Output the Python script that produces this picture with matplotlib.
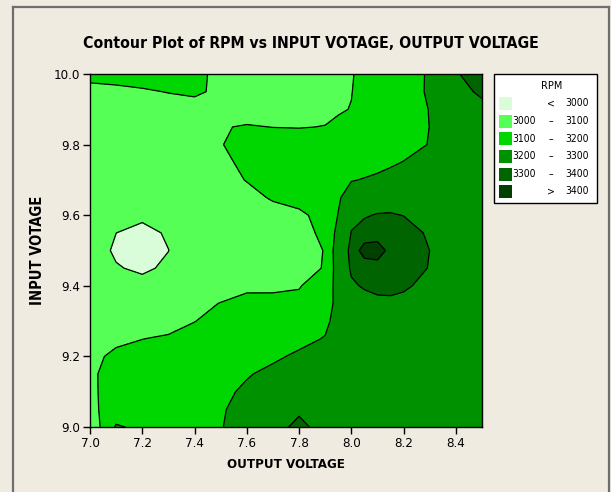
import matplotlib
matplotlib.use("Agg")
import numpy as np
import matplotlib.pyplot as plt
from matplotlib.patches import Rectangle
from matplotlib.lines import Line2D

# ---------------- data ----------------
output_voltage = [7.0, 7.1, 7.2, 7.3, 7.4, 7.5, 7.6, 7.7, 7.8, 7.9, 7.95,
                  8.0, 8.05, 8.1, 8.15, 8.2, 8.3, 8.4, 8.5]
input_voltage = [9.00, 9.05, 9.10, 9.15, 9.20, 9.25, 9.30, 9.35, 9.40, 9.45,
                 9.50, 9.55, 9.60, 9.65, 9.70, 9.75, 9.80, 9.85, 9.90, 9.95, 10.00]
# rpm[i][j] : input_voltage[i], output_voltage[j]
rpm = [
    [3030, 3211, 3179, 3185, 3192, 3198, 3218, 3270, 3320, 3270, 3268, 3265, 3263, 3262, 3260, 3260, 3258, 3256, 3254],
    [3080, 3140, 3160, 3170, 3180, 3195, 3218, 3250, 3287, 3270, 3265, 3262, 3260, 3258, 3256, 3255, 3255, 3254, 3252],
    [3080, 3145, 3155, 3165, 3175, 3180, 3215, 3240, 3260, 3262, 3260, 3258, 3256, 3255, 3255, 3255, 3255, 3254, 3252],
    [3085, 3135, 3142, 3150, 3160, 3175, 3193, 3222, 3245, 3252, 3252, 3252, 3252, 3252, 3252, 3252, 3252, 3252, 3250],
    [3078, 3118, 3124, 3130, 3138, 3150, 3165, 3185, 3215, 3235, 3240, 3245, 3248, 3250, 3252, 3253, 3255, 3255, 3252],
    [3070, 3082, 3099, 3108, 3116, 3128, 3145, 3160, 3175, 3205, 3225, 3240, 3248, 3255, 3258, 3260, 3260, 3258, 3255],
    [3055, 3052, 3060, 3075, 3099, 3115, 3130, 3140, 3150, 3180, 3235, 3255, 3265, 3270, 3272, 3272, 3268, 3262, 3258],
    [3045, 3040, 3042, 3055, 3082, 3102, 3122, 3115, 3108, 3140, 3240, 3265, 3282, 3288, 3289, 3285, 3275, 3265, 3260],
    [3036, 3019, 3013, 3022, 3045, 3070, 3085, 3090, 3098, 3118, 3255, 3293, 3305, 3313, 3314, 3308, 3284, 3265, 3260],
    [3026, 3003, 2993, 3007, 3030, 3045, 3058, 3068, 3078, 3104, 3255, 3307, 3323, 3336, 3339, 3329, 3297, 3268, 3262],
    [3021, 2994, 2973, 2999.5, 3026, 3045, 3060, 3070, 3080, 3102, 3265, 3311, 3460, 3474, 3353, 3336, 3299.8, 3270, 3262],
    [3024, 3000.2, 2988, 3004.7, 3030, 3050, 3065, 3072, 3060, 3125, 3230, 3302, 3317, 3327, 3329, 3321, 3293, 3268, 3260],
    [3028, 3015, 3008.6, 3018.6, 3035, 3055, 3070, 3082, 3078, 3140, 3203, 3286, 3296, 3303, 3304, 3299, 3278, 3265, 3258],
    [3035, 3025, 3018, 3025, 3045, 3068, 3085, 3105, 3140, 3172, 3190, 3240, 3258, 3272, 3276, 3274, 3265, 3260, 3255],
    [3040, 3035, 3032, 3040, 3058, 3082, 3102, 3130, 3150, 3170, 3183, 3196, 3204, 3212, 3224, 3235, 3250, 3255, 3255],
    [3045, 3042, 3042, 3050, 3068, 3092, 3108, 3125, 3135, 3145, 3152, 3160, 3170, 3180, 3190, 3202, 3225, 3240, 3250],
    [3050, 3050, 3052, 3060, 3078, 3098.5, 3112, 3118, 3120, 3125, 3130, 3135, 3142, 3150, 3162, 3175, 3203, 3235, 3250],
    [3055, 3056, 3060, 3068, 3082, 3098, 3102.4, 3099.5, 3098.5, 3100.9, 3106, 3112, 3126, 3140, 3160, 3180, 3200.4, 3240, 3260],
    [3060, 3062, 3068, 3077, 3081, 3078, 3085, 3083, 3085, 3092, 3097, 3101, 3118, 3135, 3160, 3185, 3201, 3250, 3277],
    [3080, 3085, 3094, 3102, 3108, 3090, 3075, 3072, 3075, 3085, 3092, 3099, 3112, 3125, 3152, 3182, 3205, 3270, 3315],
    [3120, 3125, 3125, 3120, 3110, 3090, 3080, 3080, 3085, 3092, 3095, 3098, 3108, 3118, 3147, 3176, 3206, 3292, 3345],
]
levels = [3000, 3100, 3200, 3300, 3400]
band_colors = ["#D9FDD9", "#55FF55", "#00D700", "#009100", "#006400", "#004000"]
legend_rows = [("", "<", "3000"), ("3000", "\u2013", "3100"), ("3100", "\u2013", "3200"),
               ("3200", "\u2013", "3300"), ("3300", "\u2013", "3400"), ("", ">", "3400")]
x_ticks = [7.0, 7.2, 7.4, 7.6, 7.8, 8.0, 8.2, 8.4]
y_ticks = [9.0, 9.2, 9.4, 9.6, 9.8, 10.0]
title = "Contour Plot of RPM vs INPUT VOTAGE, OUTPUT VOLTAGE"
x_label = "OUTPUT VOLTAGE"
y_label = "INPUT VOTAGE"
legend_title = "RPM"

# ---------------- figure ----------------
W, H = 611, 492
BG = "#F0EBE1"
plt.rcParams["font.family"] = ["DejaVu Sans"]
plt.rcParams["font.stretch"] = "condensed"

fig = plt.figure(figsize=(W / 100, H / 100), dpi=100, facecolor=BG)

def fx(px):
    return px / W

def fy(py):
    return 1 - py / H

ax = fig.add_axes([fx(90), fy(427), fx(482) - fx(90), fy(74) - fy(427)])
X, Y = np.meshgrid(output_voltage, input_voltage)
Z = np.array(rpm, dtype=float)
ax.contourf(X, Y, Z, levels=[0] + levels + [10000], colors=band_colors)
ax.contour(X, Y, Z, levels=levels, colors="black", linewidths=0.9)
ax.set_xlim(7.0, 8.5)
ax.set_ylim(9.0, 10.0)
ax.set_xticks(x_ticks)
ax.set_xticklabels([f"{v:.1f}" for v in x_ticks])
ax.set_yticks(y_ticks)
ax.set_yticklabels([f"{v:.1f}" for v in y_ticks])
ax.tick_params(direction="out", length=5, width=1, labelsize=9.5, colors="black", pad=2)
for s in ax.spines.values():
    s.set_linewidth(1.0)
    s.set_color("black")
ax.set_xlabel(x_label, fontsize=9.5, fontweight="bold", va="center")
ax.xaxis.set_label_coords(0.5, (427 - 465) / 353)
ax.set_ylabel(y_label, fontsize=10.5, fontweight="bold", va="center")
ax.yaxis.set_label_coords((38 - 90) / 392, 0.5)

fig.text(fx(311), fy(44), title, ha="center", va="center", fontsize=11.3, fontweight="bold")

# outer frame
for (x0, y0, x1, y1) in [(13, 7, 13, H), (13, 7, 609, 7), (609, 7, 609, H)]:
    fig.add_artist(Line2D([fx(x0), fx(x1)], [fy(y0), fy(y1)], color="#6E6E6E", lw=1.6))

# legend
fig.add_artist(Rectangle((fx(494), fy(203)), fx(597) - fx(494), fy(74) - fy(203),
                         facecolor="white", edgecolor="black", lw=1.0))
fig.text(fx(552), fy(86), legend_title, ha="center", va="center", fontsize=7.8)
row_y = [103, 121, 139, 156, 174, 191]
for (lo, sym, hi), col, ry in zip(legend_rows, band_colors, row_y):
    fig.add_artist(Rectangle((fx(499), fy(ry + 6.5)), fx(13), 13 / H,
                             facecolor=col, edgecolor="none"))
    if lo:
        fig.text(fx(536), fy(ry), lo, ha="right", va="center", fontsize=7.5)
    fig.text(fx(551), fy(ry), sym, ha="center", va="center", fontsize=7.5)
    fig.text(fx(589), fy(ry), hi, ha="right", va="center", fontsize=7.5)

fig.savefig("out.png", dpi=100, facecolor=BG)
